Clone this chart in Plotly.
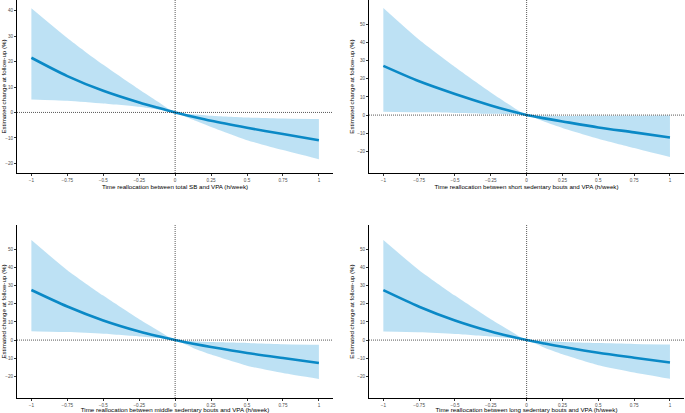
import plotly.graph_objects as go

t = [-1, -0.75, -0.5, -0.25, -0.125, 0, 0.125, 0.25, 0.5, 0.75, 1]

total_est = [21.5, 14.3, 8.5, 3.9, 1.9, 0, -1.7, -3.3, -6.0, -8.5, -10.9]
total_up = [41.0, 29.3, 18.7, 9.0, 4.4, 0, -0.7, -1.3, -2.0, -2.4, -2.6]
total_lo = [5.1, 4.6, 3.5, 2.2, 1.2, 0, -2.9, -5.7, -10.9, -14.8, -18.4]

short_est = [27.1, 18.6, 11.6, 5.3, 2.5, 0, -1.8, -3.5, -6.8, -9.5, -12.3]
short_up = [59.0, 41.5, 26.5, 12.5, 6.0, 0, -0.4, -0.5, -0.4, -0.3, -0.2]
short_lo = [1.8, 1.5, 1.2, 0.7, 0.4, 0, -3.7, -7.1, -13.0, -18.1, -23.1]

middle_est = [27.6, 18.5, 10.8, 4.7, 2.2, 0, -2.0, -3.8, -7.1, -9.9, -12.6]
middle_up = [55.1, 38.5, 24.5, 11.5, 5.6, 0, -0.6, -1.1, -1.6, -2.3, -2.6]
middle_lo = [4.9, 4.4, 3.5, 2.0, 1.1, 0, -4.3, -8.0, -14.1, -18.1, -21.4]

long_est = [27.5, 18.4, 10.8, 4.7, 2.2, 0, -1.9, -3.7, -7.0, -9.7, -12.3]
long_up = [55.1, 38.5, 24.5, 11.5, 5.6, 0, -0.5, -1.0, -1.6, -2.1, -2.4]
long_lo = [4.7, 4.3, 3.4, 2.0, 1.1, 0, -4.2, -7.8, -13.8, -17.8, -21.3]

x_titles = [
    "Time reallocation between total SB and VPA (h/week)",
    "Time reallocation between short sedentary bouts and VPA (h/week)",
    "Time reallocation between middle sedentary bouts and VPA (h/week)",
    "Time reallocation between long sedentary bouts and VPA (h/week)",
]
y_title = "Estimated change at follow-up (%)"

x_tickvals = [-1, -0.75, -0.5, -0.25, 0, 0.25, 0.5, 0.75, 1]
x_ticktext = ["\u22121", "\u22120.75", "\u22120.5", "\u22120.25", "0", "0.25", "0.5", "0.75", "1"]
y_ticks_1 = [-20, -10, 0, 10, 20, 30, 40]
y_ticks_2 = [-20, -10, 0, 10, 20, 30, 40, 50]

panels = [
    (total_est, total_up, total_lo, y_ticks_1, [-23.8, 44.2]),
    (short_est, short_up, short_lo, y_ticks_2, [-31.9, 63.4]),
    (middle_est, middle_up, middle_lo, y_ticks_2, [-31.9, 63.4]),
    (long_est, long_up, long_lo, y_ticks_2, [-31.9, 63.4]),
]

W, H = 685, 413
xdoms = [[17 / W, 333 / W], [369 / W, 684 / W]]
ydoms = [[1 - 173 / H, 1.0], [1 - 398 / H, 1 - 225 / H]]

BAND = "rgba(135,200,235,0.55)"
LINE = "#0a89c6"
FONT = "Liberation Sans"

fig = go.Figure()
for i, (est, up, lo, yt, yr) in enumerate(panels):
    n = "" if i == 0 else str(i + 1)
    xa, ya = "x" + n, "y" + n
    fig.add_trace(go.Scatter(
        x=t, y=lo, mode="lines", line=dict(width=0, shape="spline", smoothing=0.6),
        hoverinfo="skip", showlegend=False, xaxis=xa, yaxis=ya))
    fig.add_trace(go.Scatter(
        x=t, y=up, mode="lines", fill="tonexty", fillcolor=BAND,
        line=dict(width=0, shape="spline", smoothing=0.6),
        hoverinfo="skip", showlegend=False, xaxis=xa, yaxis=ya))
    fig.add_trace(go.Scatter(
        x=t, y=est, mode="lines", line=dict(color=LINE, width=2.6, shape="spline", smoothing=0.8),
        showlegend=False, xaxis=xa, yaxis=ya))
    row, col = divmod(i, 2)
    axis_common = dict(showline=True, linecolor="black", linewidth=1, ticks="outside",
                       ticklen=2, tickwidth=0.6, tickcolor="#333333", showgrid=False,
                       zeroline=False, tickfont=dict(family=FONT, size=4.6, color="#4d4d4d"))
    fig.layout["xaxis" + n] = dict(
        domain=xdoms[col], range=[-1.1, 1.098], anchor=ya, tickvals=x_tickvals, ticktext=x_ticktext,
        title=dict(text=x_titles[i], font=dict(family=FONT, size=6.2, color="black"), standoff=0),
        **axis_common)
    fig.layout["yaxis" + n] = dict(
        domain=ydoms[row], range=yr, anchor=xa, tickvals=yt,
        ticktext=[("\u2212" + str(-v)) if v < 0 else str(v) for v in yt],
        title=dict(text=y_title, font=dict(family=FONT, size=6.2, color="black"), standoff=2),
        **axis_common)
    fig.add_shape(type="line", xref=xa + " domain", yref=ya, x0=0, x1=1, y0=0, y1=0,
                  line=dict(color="#111111", width=0.7, dash="1px,1px"))
    fig.add_shape(type="line", xref=xa, yref=ya + " domain", x0=0, x1=0, y0=0, y1=1,
                  line=dict(color="#111111", width=0.7, dash="1px,1px"))

fig.update_layout(width=W, height=H, margin=dict(l=0, r=0, t=0, b=0),
                  paper_bgcolor="white", plot_bgcolor="white", showlegend=False)
fig.write_html("out.html", config={"displayModeBar": False},
               post_script="document.body.style.margin='0';")
